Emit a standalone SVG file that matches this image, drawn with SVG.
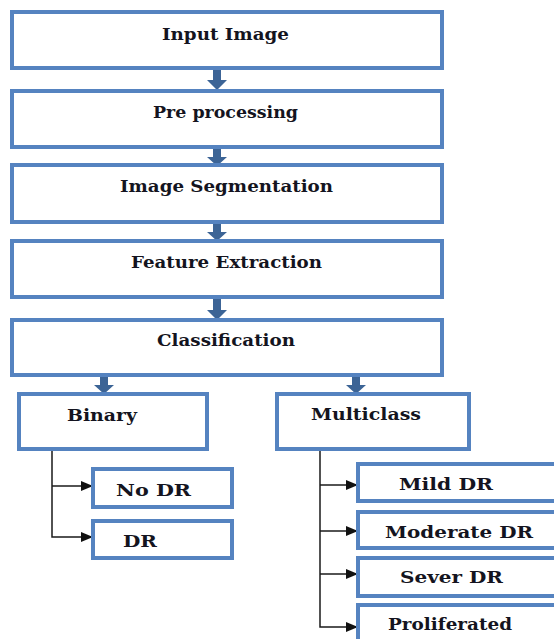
<svg xmlns="http://www.w3.org/2000/svg" width="554" height="639" viewBox="0 0 554 639">
<style>
.box{fill:#fff;stroke:#5583c0;stroke-width:4}
.blk{fill:#3c6496}
.lbl{font-family:"DejaVu Serif","Liberation Serif",serif;font-weight:bold;font-size:17px;fill:#141420}
.conn{fill:none;stroke:#1a1a1a;stroke-width:1.5}
</style>
<defs>
<marker id="ah" markerWidth="12" markerHeight="10" refX="12" refY="5" orient="auto" markerUnits="userSpaceOnUse">
<path d="M0,0 L12,5 L0,10 Z" fill="#111"/>
</marker>
</defs>
<rect width="554" height="639" fill="#fff"/>
<g id="connectors">
<path class="blk" d="M213,70 H221 V80 H227 L217,90 L207,80 H213 Z"/>
<path class="blk" d="M213,149 H221 V157 H227 L217,166 L207,157 H213 Z"/>
<path class="blk" d="M213,224 H221 V232 H227 L217,241 L207,232 H213 Z"/>
<path class="blk" d="M213,299 H221 V310 H227 L217,320 L207,310 H213 Z"/>
<path class="blk" d="M100,377 H108 V385 H114 L104,394 L94,385 H100 Z"/>
<path class="blk" d="M352,377 H360 V385 H366 L356,394 L346,385 H352 Z"/>
<path class="conn" d="M52,449 V537 H93" marker-end="url(#ah)"/>
<path class="conn" d="M52,486 H93" marker-end="url(#ah)"/>
<path class="conn" d="M320,449 V627 H358" marker-end="url(#ah)"/>
<path class="conn" d="M320,485 H358" marker-end="url(#ah)"/>
<path class="conn" d="M320,531 H358" marker-end="url(#ah)"/>
<path class="conn" d="M320,574 H358" marker-end="url(#ah)"/>
</g>
<g id="input"><rect class="box" x="12" y="12" width="430" height="56"/><text class="lbl" x="162" y="40" textLength="127" lengthAdjust="spacingAndGlyphs">Input Image</text></g>
<g id="preprocessing"><rect class="box" x="12" y="91" width="430" height="56"/><text class="lbl" x="153" y="118" textLength="145" lengthAdjust="spacingAndGlyphs">Pre processing</text></g>
<g id="segmentation"><rect class="box" x="12" y="165" width="430" height="57"/><text class="lbl" x="120" y="192" textLength="213" lengthAdjust="spacingAndGlyphs">Image Segmentation</text></g>
<g id="feature"><rect class="box" x="12" y="241" width="430" height="56"/><text class="lbl" x="131" y="268" textLength="191" lengthAdjust="spacingAndGlyphs">Feature Extraction</text></g>
<g id="classification"><rect class="box" x="12" y="320" width="430" height="55"/><text class="lbl" x="157" y="346" textLength="138" lengthAdjust="spacingAndGlyphs">Classification</text></g>
<g id="binary"><rect class="box" x="19" y="394" width="188" height="55"/><text class="lbl" x="67" y="421" textLength="70" lengthAdjust="spacingAndGlyphs">Binary</text></g>
<g id="multiclass"><rect class="box" x="277" y="394" width="192" height="55"/><text class="lbl" x="311" y="420" textLength="110" lengthAdjust="spacingAndGlyphs">Multiclass</text></g>
<g id="nodr"><rect class="box" x="93" y="469" width="139" height="38"/><text class="lbl" x="116" y="496" textLength="75" lengthAdjust="spacingAndGlyphs">No DR</text></g>
<g id="dr"><rect class="box" x="93" y="521" width="139" height="37"/><text class="lbl" x="123" y="547" textLength="34" lengthAdjust="spacingAndGlyphs">DR</text></g>
<g id="mild"><rect class="box" x="358" y="464" width="200" height="37"/><text class="lbl" x="399" y="490" textLength="94" lengthAdjust="spacingAndGlyphs">Mild DR</text></g>
<g id="moderate"><rect class="box" x="358" y="512" width="200" height="36"/><text class="lbl" x="385" y="538" textLength="148" lengthAdjust="spacingAndGlyphs">Moderate DR</text></g>
<g id="sever"><rect class="box" x="358" y="558" width="200" height="38"/><text class="lbl" x="400" y="583" textLength="103" lengthAdjust="spacingAndGlyphs">Sever DR</text></g>
<g id="proliferated"><rect class="box" x="358" y="605" width="200" height="50"/><text class="lbl" x="388" y="630" textLength="124" lengthAdjust="spacingAndGlyphs">Proliferated</text></g>
</svg>
